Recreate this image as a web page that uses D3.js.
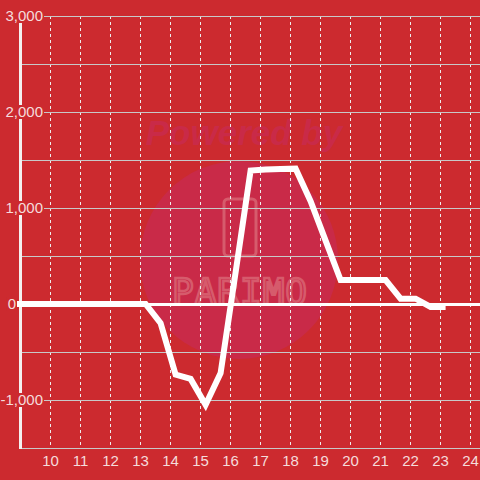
<!DOCTYPE html>
<meta charset="utf-8">
<style>
  body { margin: 0; background: #cc2a2f; }
  text { font-family: "Liberation Sans", Arial, sans-serif; }
</style>
<body>
<script src="https://cdnjs.cloudflare.com/ajax/libs/d3/7.8.5/d3.min.js"></script>
<script>
var width = 480,
    height = 480,
    bg = "#cc2a2f";

// half-hourly readings (hour of day, value)
var hours = [8.67, 9.17, 9.67, 10.17, 10.67, 11.17, 11.67, 12.17, 12.67, 13.17,
             13.67, 14.17, 14.67, 15.17, 15.67, 16.17, 16.67, 17.17, 17.67, 18.17,
             18.67, 19.17, 19.67, 20.17, 20.67, 21.17, 21.67, 22.17, 22.67, 23.17];
var values = [0, 0, 0, 0, 0, 0, 0, 0, 0, 0,
              -200, -735, -780, -1050, -720, 330, 1390, 1400, 1405, 1410,
              1070, 660, 250, 250, 250, 250, 55, 55, -30, -30];
var xTicks = [10, 11, 12, 13, 14, 15, 16, 17, 18, 19, 20, 21, 22, 23, 24];
var yLabels = [3000, 2000, 1000, 0, -1000];
var yGrid = [3000, 2500, 2000, 1500, 1000, 500, 0, -500, -1000];

var x = d3.scaleLinear().domain([9, 24]).range([20.5, 470.5]);
var y = d3.scaleLinear().domain([-1500, 3000]).range([448, 16]);

var svg = d3.select("body").append("svg")
    .attr("width", width)
    .attr("height", height);

svg.append("rect").attr("width", width).attr("height", height).attr("fill", bg);

// watermark
var wm = svg.append("g");
wm.append("circle").attr("cx", 239).attr("cy", 260).attr("r", 99).attr("fill", "#c92a48");
wm.append("text").attr("x", 244).attr("y", 145)
    .attr("text-anchor", "middle")
    .style("font-size", "35px").style("font-weight", "bold").style("font-style", "italic")
    .attr("fill", "#c92a48").text("Powered by");
wm.append("rect").attr("x", 224).attr("y", 199).attr("width", 32).attr("height", 57).attr("rx", 4)
    .attr("fill", "none").attr("stroke", "#d65b6c").attr("stroke-width", 3);
wm.append("text").attr("x", 240).attr("y", 304)
    .attr("text-anchor", "middle")
    .style("font-family", "'DejaVu Sans Mono', monospace")
    .style("font-size", "36px").style("letter-spacing", "1px")
    .attr("fill", "none").attr("stroke", "#d65b6c").attr("stroke-width", 2.5)
    .text("PARIMO");

// vertical dashed grid
svg.append("g").selectAll("line").data(xTicks).join("line")
    .attr("x1", d => x(d)).attr("x2", d => x(d))
    .attr("y1", 16).attr("y2", 448)
    .attr("stroke", "#eee").attr("stroke-width", 1).attr("stroke-dasharray", "3,3");

// horizontal grid
svg.append("g").selectAll("line").data(yGrid).join("line")
    .attr("x1", 21).attr("x2", width)
    .attr("y1", d => y(d) + 0.5).attr("y2", d => y(d) + 0.5)
    .attr("stroke", d => d === 0 ? "#fff" : "#c8c8c8")
    .attr("stroke-width", d => d === 0 ? 3 : 1.2);

// bottom axis line
svg.append("line").attr("x1", 21).attr("x2", width).attr("y1", 448.5).attr("y2", 448.5)
    .attr("stroke", "#c8c8c8").attr("stroke-width", 1.2);

// y axis line
svg.append("line").attr("x1", 20.5).attr("x2", 20.5).attr("y1", 18).attr("y2", 449)
    .attr("stroke", "#f4f0f0").attr("stroke-width", 3);

// data line
svg.append("clipPath").attr("id", "clip")
  .append("rect").attr("x", 17).attr("y", 0).attr("width", width).attr("height", height);

var line = d3.line().x((d, i) => x(hours[i])).y(d => y(d));
svg.append("path")
    .datum(values)
    .attr("clip-path", "url(#clip)")
    .attr("d", line)
    .attr("fill", "none")
    .attr("stroke", "#fff")
    .attr("stroke-width", 6)
    .attr("stroke-linejoin", "miter");

// y labels with background boxes
var fmt = d3.format(",");
var yl = svg.append("g").selectAll("g").data(yLabels).join("g")
    .attr("transform", d => "translate(" + (d === 0 ? 16 : 43) + "," + y(d) + ")");
yl.append("text")
    .attr("text-anchor", "end")
    .attr("dy", "0.35em")
    .style("font-size", "15px")
    .attr("fill", "#f5dcdc")
    .text(d => fmt(d).replace("−", "-"));
yl.each(function() {
  var g = d3.select(this), b = g.select("text").node().getBBox();
  g.insert("rect", "text")
    .attr("x", b.x - 1).attr("y", -7).attr("width", b.width + 2).attr("height", 14)
    .attr("fill", bg);
});

// x labels
svg.append("g").selectAll("text").data(xTicks).join("text")
    .attr("x", d => x(d)).attr("y", 466)
    .attr("text-anchor", "middle")
    .style("font-size", "15px")
    .attr("fill", "#f5dcdc")
    .text(d => d);
</script>
</body>
